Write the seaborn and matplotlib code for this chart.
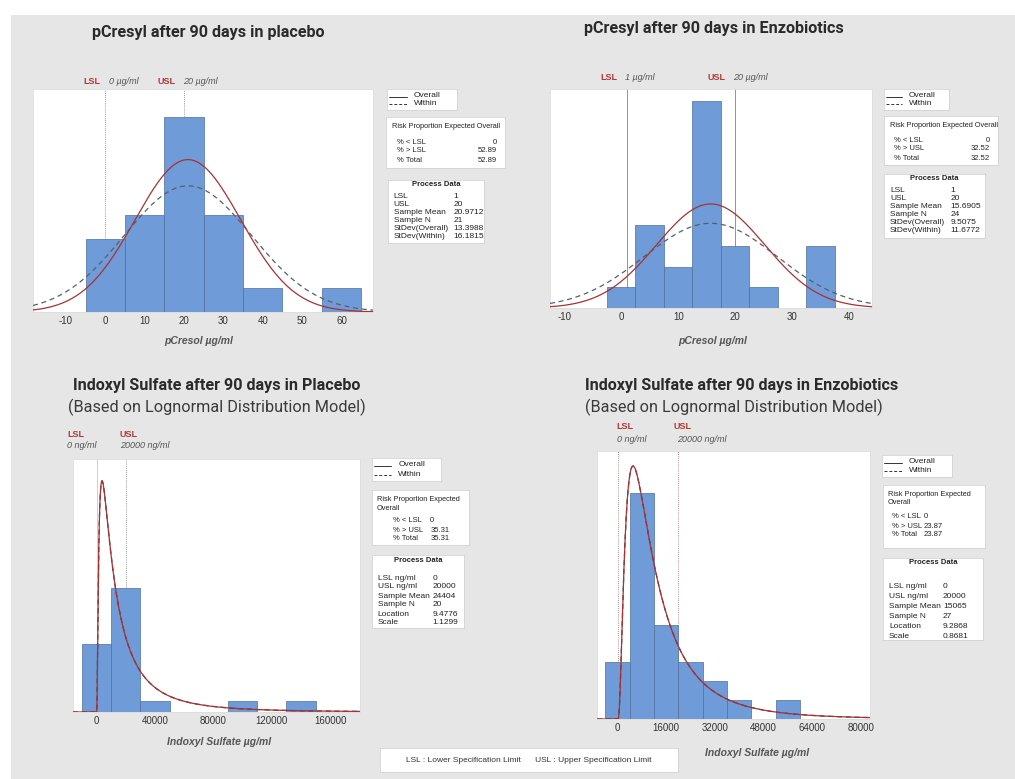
import numpy as np
import pandas as pd
import seaborn as sns
import matplotlib.pyplot as plt

# ---- data ----
# pCresol, placebo (normal model)
pc_plac_bins = [0, 10, 20, 30, 40, 50, 60]
pc_plac_counts = [3, 4, 8, 4, 1, 0, 1]
pc_plac_stats = dict(mean=20.9712, sd_overall=13.3988, sd_within=16.1815, n=21)
pc_plac_risk = [("% < LSL", "0"), ("% > LSL", "52.89"), ("% Total", "52.89")]
pc_plac_process = [("LSL", "1"), ("USL", "20"), ("Sample Mean", "20.9712"),
                   ("Sample N", "21"), ("StDev(Overall)", "13.3988"), ("StDev(Within)", "16.1815")]

# pCresol, Enzobiotics (normal model)
pc_enzo_bins = [0, 5, 10, 15, 20, 25, 30, 35]
pc_enzo_counts = [1, 4, 2, 10, 3, 1, 0, 3]
pc_enzo_stats = dict(mean=15.6905, sd_overall=9.5075, sd_within=11.6772, n=24)
pc_enzo_risk = [("% < LSL", "0"), ("% > USL", "32.52"), ("% Total", "32.52")]
pc_enzo_process = [("LSL", "1"), ("USL", "20"), ("Sample Mean", "15.6905"),
                   ("Sample N", "24"), ("StDev(Overall)", "9.5075"), ("StDev(Within)", "11.6772")]

# Indoxyl sulfate, placebo (lognormal model)
is_plac_bins = [0, 20000, 40000, 60000, 80000, 100000, 120000, 140000]
is_plac_counts = [6, 11, 1, 0, 0, 1, 0, 1]
is_plac_stats = dict(loc=9.4776, scale=1.1299, n=20)
is_plac_risk = [("% < LSL", "0"), ("% > USL", "35.31"), ("% Total", "35.31")]
is_plac_process = [("LSL ng/ml", "0"), ("USL ng/ml", "20000"), ("Sample Mean", "24404"),
                   ("Sample N", "20"), ("Location", "9.4776"), ("Scale", "1.1299")]

# Indoxyl sulfate, Enzobiotics (lognormal model)
is_enzo_bins = [0, 8000, 16000, 24000, 32000, 40000, 48000, 56000]
is_enzo_counts = [3, 12, 5, 3, 2, 1, 0, 1]
is_enzo_stats = dict(loc=9.2868, scale=0.8681, n=27)
is_enzo_risk = [("% < LSL", "0"), ("% > USL", "23.87"), ("% Total", "23.87")]
is_enzo_process = [("LSL ng/ml", "0"), ("USL ng/ml", "20000"), ("Sample Mean", "15065"),
                   ("Sample N", "27"), ("Location", "9.2868"), ("Scale", "0.8681")]

W, H = 1015, 779
BAR = "#6f9bd8"
BAR_EDGE = "#4d6f9a"
RED = "#a83232"
LBL_RED = "#b03a3a"
GREY_TXT = "#555555"
TITLE_FONT = ["Roboto", "DejaVu Sans"]

sns.set_theme(style="white")
plt.rcParams['font.family'] = ['Liberation Sans', 'DejaVu Sans']

fig = plt.figure(figsize=(W / 100, H / 100), dpi=100)
fig.patch.set_facecolor("white")
fig.patches.append(plt.Rectangle((11 / W, 0), 1, 1 - 15 / H, transform=fig.transFigure,
                                 facecolor="#e6e6e6", edgecolor="none", zorder=-10))


def px_axes(x0, y0, x1, y1):
    return fig.add_axes([x0 / W, 1 - y1 / H, (x1 - x0) / W, (y1 - y0) / H])


def ftext(x, y, s, **kw):
    kw.setdefault("va", "center")
    fig.text(x / W, 1 - y / H, s, **kw)


def box(x0, y0, x1, y1):
    b = px_axes(x0, y0, x1, y1)
    b.set_xlim(0, 1)
    b.set_ylim(0, 1)
    b.set_xticks([])
    b.set_yticks([])
    b.set_facecolor("white")
    for s in b.spines.values():
        s.set_color("#d4d4d4")
        s.set_linewidth(0.6)
    return b


def legend_box(x0, y0, x1, y1):
    b = box(x0, y0, x1, y1)
    b.plot([0.03, 0.28], [0.64, 0.64], color="#333333", lw=0.7)
    b.plot([0.03, 0.28], [0.28, 0.28], color="#333333", lw=0.7, ls=(0, (3, 2)))
    b.text(0.38, 0.70, "Overall", fontsize=6, va="center", color="#222222")
    b.text(0.38, 0.30, "Within", fontsize=6, va="center", color="#222222")


def risk_box(x0, y0, x1, y1, rows, title, lab_x, val_x, val_ha, row_y):
    b = box(x0, y0, x1, y1)
    h = y1 - y0
    b.text(0.05, 1 - 6 / h, title, fontsize=5.3, va="top", color="#222222", linespacing=1.3)
    for i, (k, v) in enumerate(rows):
        yy = 1 - (row_y + i * 9) / h
        b.text(lab_x, yy, k, fontsize=5.5, va="center", color="#222222")
        b.text(val_x, yy, v, fontsize=5.5, va="center", ha=val_ha, color="#222222")


def process_box(x0, y0, x1, y1, rows, val_x, row_y, step):
    b = box(x0, y0, x1, y1)
    h = y1 - y0
    b.text(0.5, 1 - 5 / h, "Process Data", fontsize=5.5, va="center", ha="center",
           color="#222222", weight="bold")
    for i, (k, v) in enumerate(rows):
        yy = 1 - (row_y + i * step) / h
        b.text(0.06, yy, k, fontsize=6, va="center", color="#222222")
        b.text(val_x, yy, v, fontsize=6, va="center", color="#222222")


def hist_panel(rect, centers, counts, width, xlim, ylim, ticks):
    ax = px_axes(*rect)
    df = pd.DataFrame({"value": centers, "count": counts})
    sns.histplot(data=df, x="value", weights="count", binwidth=width,
                 binrange=(centers[0] - width / 2, centers[-1] + width / 2), ax=ax, color=BAR,
                 edgecolor=BAR_EDGE, linewidth=0.5, alpha=1, zorder=2)
    ax.set_xlim(*xlim)
    ax.set_ylim(*ylim)
    ax.set_xticks(ticks)
    ax.set_xticklabels([str(t) for t in ticks])
    ax.set_yticks([])
    ax.set_xlabel("")
    ax.set_ylabel("")
    ax.tick_params(axis="x", length=0, labelsize=7, labelcolor="#333333", pad=3)
    ax.set_facecolor("white")
    for s in ax.spines.values():
        s.set_color("#dddddd")
        s.set_linewidth(0.6)
    return ax


def normal_curves(ax, st, width, xlim):
    x = np.linspace(xlim[0], xlim[1], 400)
    for sd, ls, col in [(st["sd_within"], (0, (4, 3)), "#56606b"), (st["sd_overall"], "-", RED)]:
        y = st["n"] * width * np.exp(-(x - st["mean"]) ** 2 / (2 * sd ** 2)) / (sd * np.sqrt(2 * np.pi))
        ax.plot(x, y, color=col, lw=0.9, ls=ls, zorder=4)


def lognormal_curves(ax, st, width, xlim):
    x = np.concatenate([[xlim[0], 0], np.linspace(1, xlim[1], 2000)])
    pos = np.clip(x, 1e-9, None)
    y = st["n"] * width * np.exp(-(np.log(pos) - st["loc"]) ** 2 / (2 * st["scale"] ** 2)) \
        / (pos * st["scale"] * np.sqrt(2 * np.pi))
    y[x <= 0] = 0
    ax.plot(x, y, color="#3c3c3c", lw=0.9, ls=(0, (4, 3)), zorder=4)
    ax.plot(x, y, color=RED, lw=0.9, zorder=5)


# ---- top left: pCresol placebo ----
ax1 = hist_panel((33, 89, 373, 312), pc_plac_bins, pc_plac_counts, 10, (-18.4, 68), (0, 9.15),
                 [-10, 0, 10, 20, 30, 40, 50, 60])
normal_curves(ax1, pc_plac_stats, 10, (-18.4, 68))
for v in [0, 20]:
    ax1.axvline(v, color="#777777", lw=0.6, ls=(0, (1, 1.5)), zorder=1)
ftext(208, 33, "pCresyl after 90 days in placebo", fontsize=11.6, weight="bold", ha="center",
      family=TITLE_FONT, color="#2a2a2a")
ftext(92, 81, "LSL", fontsize=6.5, weight="bold", color=LBL_RED, ha="center")
ftext(124, 81, "0 µg/ml", fontsize=6.5, style="italic", color=GREY_TXT, ha="center")
ftext(167, 81, "USL", fontsize=6.5, weight="bold", color=LBL_RED, ha="center")
ftext(200, 81, "20 µg/ml", fontsize=6.5, style="italic", color=GREY_TXT, ha="center")
ftext(199, 341, "pCresol µg/ml", fontsize=7.5, weight="bold", style="italic", color=GREY_TXT, ha="center")
legend_box(387, 89, 457, 110)
risk_box(386, 117, 505, 168, pc_plac_risk, "Risk Proportion Expected Overall", 0.09, 0.93, "right", 25)
process_box(388, 180, 484, 243, pc_plac_process, 0.68, 17, 8)

# ---- top right: pCresol Enzobiotics ----
ax2 = hist_panel((550, 89, 872, 308), pc_enzo_bins, pc_enzo_counts, 5, (-12.5, 44), (0, 10.6),
                 [-10, 0, 10, 20, 30, 40])
normal_curves(ax2, pc_enzo_stats, 5, (-12.5, 44))
for v in [1, 20]:
    ax2.axvline(v, color="#8a7f7f", lw=0.6, zorder=1)
ftext(714, 29, "pCresyl after 90 days in Enzobiotics", fontsize=11.6, weight="bold", ha="center",
      family=TITLE_FONT, color="#2a2a2a")
ftext(609, 78, "LSL", fontsize=6.5, weight="bold", color=LBL_RED, ha="center")
ftext(640, 78, "1 µg/ml", fontsize=6.5, style="italic", color=GREY_TXT, ha="center")
ftext(716, 78, "USL", fontsize=6.5, weight="bold", color=LBL_RED, ha="center")
ftext(750, 78, "20 µg/ml", fontsize=6.5, style="italic", color=GREY_TXT, ha="center")
ftext(713, 341, "pCresol µg/ml", fontsize=7.5, weight="bold", style="italic", color=GREY_TXT, ha="center")
legend_box(884, 89, 949, 110)
risk_box(884, 116, 998, 165, pc_enzo_risk, "Risk Proportion Expected Overall", 0.09, 0.93, "right", 24)
process_box(884, 174, 985, 238, pc_enzo_process, 0.66, 17, 8)

# ---- bottom left: Indoxyl sulfate placebo ----
ax3 = hist_panel((73, 459, 360, 712), is_plac_bins, is_plac_counts, 20000, (-16250, 180500),
                 (0, 22.4), [0, 40000, 80000, 120000, 160000])
lognormal_curves(ax3, is_plac_stats, 20000, (-16250, 180500))
ax3.axvline(0, color="#c8c8c8", lw=0.6, zorder=1)
ax3.axvline(20000, color="#777777", lw=0.6, ls=(0, (1, 1.5)), zorder=1)
ftext(217, 385, "Indoxyl Sulfate after 90 days in Placebo", fontsize=11.6, weight="bold", ha="center",
      family=TITLE_FONT, color="#2a2a2a")
ftext(217, 407, "(Based on Lognormal Distribution Model)", fontsize=11.7, ha="center",
      family=TITLE_FONT, color="#3a3a3a")
ftext(67, 434, "LSL", fontsize=6.5, weight="bold", color=LBL_RED)
ftext(67, 446, "0 ng/ml", fontsize=6.5, style="italic", color=GREY_TXT)
ftext(120, 434, "USL", fontsize=6.5, weight="bold", color=LBL_RED)
ftext(120, 446, "20000 ng/ml", fontsize=6.5, style="italic", color=GREY_TXT)
ftext(219, 742, "Indoxyl Sulfate µg/ml", fontsize=7.5, weight="bold", style="italic", color=GREY_TXT, ha="center")
legend_box(372, 458, 441, 481)
risk_box(372, 490, 469, 545, is_plac_risk, "Risk Proportion Expected\nOverall", 0.22, 0.60, "left", 31)
process_box(372, 555, 464, 628, is_plac_process, 0.66, 23, 9)

# ---- bottom right: Indoxyl sulfate Enzobiotics ----
ax4 = hist_panel((597, 451, 870, 719), is_enzo_bins, is_enzo_counts, 8000, (-6770, 83060),
                 (0, 14.2), [0, 16000, 32000, 48000, 64000, 80000])
lognormal_curves(ax4, is_enzo_stats, 8000, (-6770, 83060))
for v in [0, 20000]:
    ax4.axvline(v, color="#a56a6a", lw=0.6, ls=(0, (1, 1.5)), zorder=1)
ftext(585, 385, "Indoxyl Sulfate after 90 days in Enzobiotics", fontsize=11.6, weight="bold",
      family=TITLE_FONT, color="#2a2a2a")
ftext(585, 407, "(Based on Lognormal Distribution Model)", fontsize=11.7,
      family=TITLE_FONT, color="#3a3a3a")
ftext(616, 427, "LSL", fontsize=6.5, weight="bold", color=LBL_RED)
ftext(617, 440, "0 ng/ml", fontsize=6.5, style="italic", color=GREY_TXT)
ftext(673, 427, "USL", fontsize=6.5, weight="bold", color=LBL_RED)
ftext(677, 440, "20000 ng/ml", fontsize=6.5, style="italic", color=GREY_TXT)
ftext(757, 753, "Indoxyl Sulfate µg/ml", fontsize=7.5, weight="bold", style="italic", color=GREY_TXT, ha="center")
legend_box(882, 455, 952, 477)
risk_box(883, 485, 985, 548, is_enzo_risk, "Risk Proportion Expected\nOverall", 0.09, 0.40, "left", 32)
process_box(883, 558, 983, 640, is_enzo_process, 0.60, 28, 10)

# ---- footer ----
fb = box(380, 748, 678, 772)
fb.text(0.5, 0.5, "LSL : Lower Specification Limit      USL : Upper Specification Limit",
        fontsize=6, ha="center", va="center", color="#333333")

plt.savefig("out.png", dpi=100, facecolor=fig.get_facecolor())
